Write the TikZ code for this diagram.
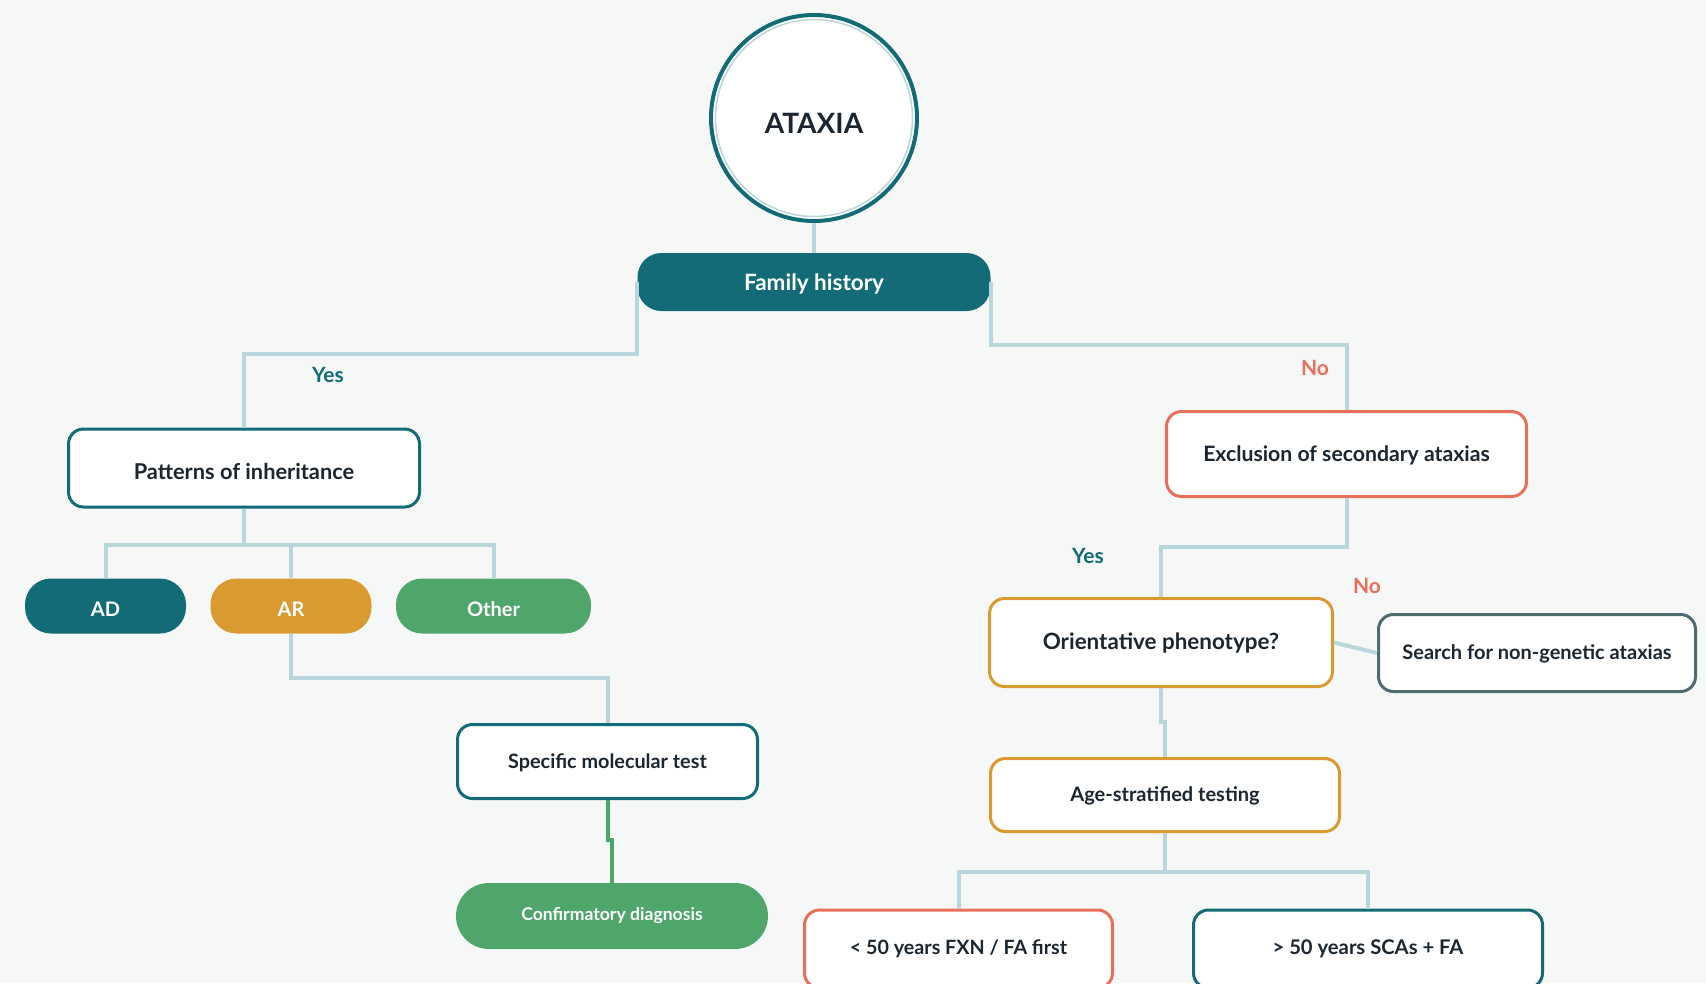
\documentclass[tikz,border=0pt]{standalone}
\usepackage{fontspec}
\setmainfont{Lato}
\definecolor{bgc}{HTML}{F6F8F7}
\definecolor{teal}{HTML}{126B76}
\definecolor{gold}{HTML}{D99A32}
\definecolor{leaf}{HTML}{4FA66B}
\definecolor{coral}{HTML}{E8705A}
\definecolor{slate}{HTML}{4F6B72}
\definecolor{wire}{HTML}{B8D6DB}
\definecolor{ink}{HTML}{1B2631}
\newcommand{\dn}[2][2pt]{\raisebox{-#1}[\height][\depth]{#2}}
\begin{document}
\begin{tikzpicture}[x=1pt,y=-1pt,
  conn/.style={draw=wire, line width=4pt},
  gconn/.style={draw=leaf, line width=4pt},
  box/.style={draw=#1, line width=3pt, rounded corners=15pt, fill=white, text=ink, inner sep=0pt, font=\bfseries},
  pill/.style={fill=#1, rounded corners=26pt, text=white, inner sep=0pt, font=\bfseries},
  lbl/.style={text=#1, font=\bfseries\fontsize{21}{24}\selectfont}
]
\useasboundingbox[fill=bgc] (0,0) rectangle (1706,983);
\clip (0,0) rectangle (1706,983);

% nodes
\node[circle, draw=teal, line width=4pt, fill=white, minimum size=206pt, inner sep=0pt,
      font=\bfseries\fontsize{28}{32}\selectfont, text=ink] (ataxia) at (814,118) {\dn[5pt]{ATAXIA}};
\draw[wire, line width=1.5pt] (ataxia.center) circle (98.5pt);

\node[fill=teal, rounded corners=24pt, minimum width=353pt, minimum height=58pt, text=white,
      font=\bfseries\fontsize{22.5}{26}\selectfont] (fh) at (814,282) {\dn{Family history}};

\node[box=teal, minimum width=351pt, minimum height=78pt, font=\bfseries\fontsize{21.8}{25}\selectfont] (pat) at (244,468) {\dn[3pt]{Patterns of inheritance}};

\node[pill=teal, minimum width=161pt, minimum height=55pt, font=\bfseries\fontsize{20}{24}\selectfont] (ad) at (105.5,606) {\dn[3pt]{AD}};
\node[pill=gold, minimum width=161pt, minimum height=55pt, font=\bfseries\fontsize{20}{24}\selectfont] (ar) at (291,606) {\dn[3pt]{AR}};
\node[pill=leaf, minimum width=195pt, minimum height=55pt, font=\bfseries\fontsize{20}{24}\selectfont] (other) at (493.5,606) {\dn[3pt]{Other}};

\node[box=teal, minimum width=300pt, minimum height=74pt, font=\bfseries\fontsize{19.8}{23}\selectfont] (smt) at (607.5,761.5) {\dn[1pt]{Specific molecular test}};
\node[pill=leaf, rounded corners=33pt, minimum width=312pt, minimum height=66pt, font=\bfseries\fontsize{17.6}{20}\selectfont] (conf) at (612,916) {Confirmatory diagnosis};

\node[box=coral, minimum width=360pt, minimum height=85pt, font=\bfseries\fontsize{21.2}{24}\selectfont] (excl) at (1346.5,454) {\dn[1pt]{Exclusion of secondary ataxias}};
\node[box=gold, minimum width=343pt, minimum height=88pt, font=\bfseries\fontsize{22.4}{26}\selectfont] (orient) at (1161,642.5) {\dn[1pt]{Orientative phenotype?}};
\node[box=slate, minimum width=317pt, minimum height=77pt, font=\bfseries\fontsize{20}{23}\selectfont] (search) at (1537,653) {\dn[1pt]{Search for non-genetic ataxias}};
\node[box=gold, minimum width=349pt, minimum height=73pt, font=\bfseries\fontsize{20}{23}\selectfont] (age) at (1165,795) {\dn[1pt]{Age-stratified testing}};
\node[box=coral, minimum width=308pt, minimum height=78pt, font=\bfseries\fontsize{19.7}{23}\selectfont] (lt) at (958.5,949) {< 50 years FXN / FA first};
\node[box=teal, minimum width=349pt, minimum height=78pt, font=\bfseries\fontsize{20.2}{23}\selectfont] (gt) at (1368,949) {> 50 years SCAs + FA};

% connectors
\draw[conn] (ataxia.south) -- (fh.north);
\draw[conn] (fh.west) -- ++(0,72) -| (pat.north);
\draw[conn] (fh.east) -- ++(0,63) -| (excl.north);
\draw[conn] (pat.south) -- ++(0,36) coordinate (pj);
\draw[conn] (ad.north) |- (pj) -| (other.north);
\draw[conn] (ar.north) -- (ar.north |- pj);
\draw[conn] (ar.south) -- ++(0,44) -| (smt.north);
\draw[gconn] (smt.south) -- ++(0,40) -| (conf.north);
\draw[conn] (excl.south) -- ++(0,49) -| (orient.north);
\draw[conn] (orient.east) -- (search.west);
\draw[conn] (orient.south) -- ++(0,34) -| (age.north);
\draw[conn] (age.south) -- ++(0,39) coordinate (aj);
\draw[conn] (lt.north) |- (aj) -| (gt.north);

% labels
\node[lbl=teal] (yes1) at (328,375) {Yes};
\node[lbl=coral] (no1) at (1315,368) {No};
\node[lbl=teal] (yes2) at (1088,556) {Yes};
\node[lbl=coral] (no2) at (1367,586) {No};
\end{tikzpicture}
\end{document}
